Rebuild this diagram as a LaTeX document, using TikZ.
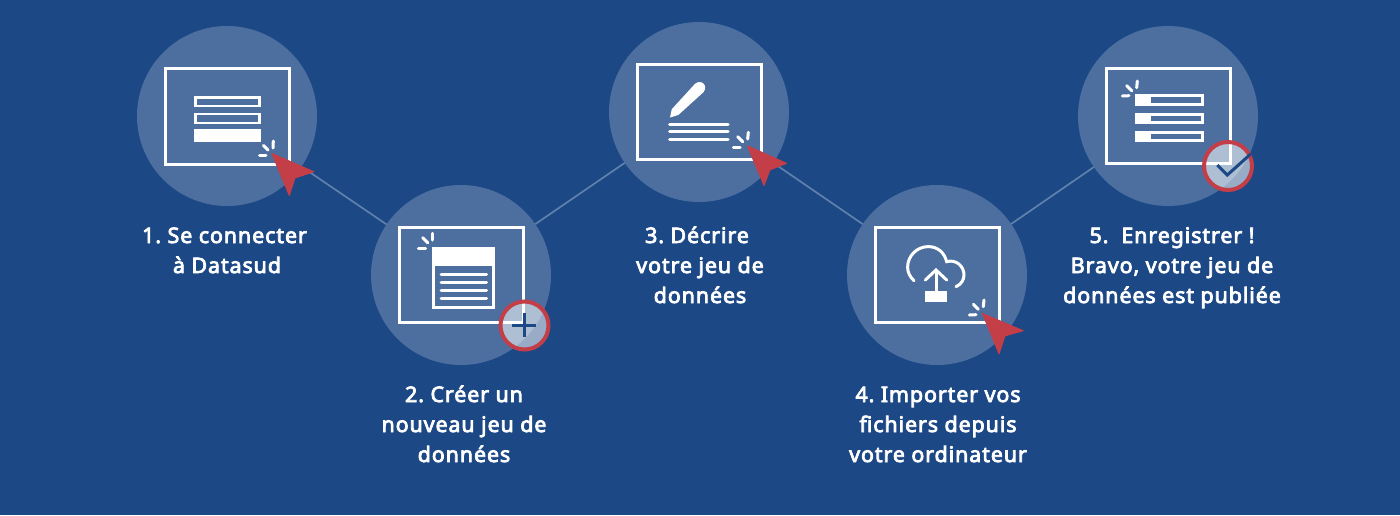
\documentclass[tikz,border=0pt]{standalone}
\usepackage{fontspec}
\newfontfamily\capfont{Noto Sans}[FakeBold=3.6,LetterSpace=4.3]
\definecolor{bgblue}{HTML}{1C4885}
\definecolor{disc}{HTML}{4C6F9F}
\definecolor{link}{HTML}{5F82AD}
\definecolor{redc}{HTML}{C43E48}
\tikzset{
  stepdisc/.style={circle,draw=none,fill=disc,minimum size=180pt,inner sep=0pt,outer sep=0pt},
  linkline/.style={draw=link,line width=1.7pt},
  screen/.style={draw=white,line width=3pt,line join=miter},
  spark/.style={draw=white,line width=3pt,line cap=round},
  rowline/.style={draw=white,line width=3pt,line cap=round},
  barbox/.style={draw=white,line width=2.8pt},
  cursor/.style={fill=redc,draw=redc,line width=.8pt,line join=round},
  badge/.style={circle,draw=redc,line width=4pt,fill=white,fill opacity=.55,minimum size=48pt,inner sep=0pt,outer sep=0pt},
  badgemark/.style={draw=bgblue,line width=3pt},
  caption/.style={text=white,align=center,font=\fontsize{21.4}{30}\capfont\frenchspacing,inner sep=0pt,anchor=base},
}
\begin{document}
\begin{tikzpicture}[x=1pt,y=-1pt]
\useasboundingbox (0,0) rectangle (1400,515);
\fill[bgblue] (0,0) rectangle (1400,515);
% discs
\node[stepdisc] (s1) at (227,116) {};
\node[stepdisc] (s2) at (461,275) {};
\node[stepdisc] (s3) at (699,112) {};
\node[stepdisc] (s4) at (937,275) {};
\node[stepdisc] (s5) at (1168,116) {};
\draw[linkline] (s1) -- (s2);
\draw[linkline] (s2) -- (s3);
\draw[linkline] (s3) -- (s4);
\draw[linkline] (s4) -- (s5);
% step 1
\draw[screen] (165,68) rectangle (289,164);
\draw[barbox] (195.3,97.3) rectangle (259.5,106);
\draw[barbox] (195.3,114) rectangle (259.5,123);
\fill[white] (194,129.3) rectangle (260.7,141.7);
\draw[spark] (273.3,141) -- (273,148);
\draw[spark] (263.5,145.5) -- (268,150);
\draw[spark] (259.5,155.7) -- (266,155.7);
\draw[cursor] (271.7,153.3) -- (314,171.7) -- (295,178) -- (289.3,195.7) -- cycle;
% step 2
\draw[screen] (399,227) rectangle (523,322.5);
\draw[draw=white,line width=3pt] (433.5,248.5) rectangle (493.5,307.5);
\fill[white] (432,247) rectangle (495,266);
\foreach \y in {274,282,290,298} \draw[rowline] (441,\y) -- (486.5,\y);
\draw[spark] (432.7,233.3) -- (432.7,240);
\draw[spark] (422.7,237.7) -- (427.7,242.7);
\draw[spark] (418.3,248) -- (425.7,248);
\node[badge] (b2) at (524.5,325.5) {};
\draw[badgemark] (524,312.7) -- (524,337);
\draw[badgemark] (511.7,325) -- (536,325);
% step 3
\draw[screen] (637,64) rectangle (761,159.5);
\fill[white] (699.5,87.7) circle (5.7pt);
\fill[white,line join=round] (670,117.5) -- (671.7,109.3) -- (695.3,83.5) -- (704,91.7) -- (678.3,115) -- cycle;
\foreach \y in {124,131.3,139} \draw[rowline] (669.5,\y) -- (728,\y);
\draw[spark] (748.3,132.3) -- (747.7,139);
\draw[spark] (737.7,136.7) -- (742.7,141.7);
\draw[spark] (733.3,147) -- (740,147);
\draw[cursor] (747.3,145.7) -- (786.7,163.3) -- (770,170) -- (764,185.7) -- cycle;
% step 4
\draw[screen] (875,227) rectangle (999,322.5);
\draw[white,line width=3pt,line cap=round] (914,280.7) .. controls (910,277) and (907.6,272.5) .. (907.6,267.3)
  .. controls (907.6,255.9) and (916.9,246.6) .. (928.3,246.6)
  .. controls (938,246.6) and (944.5,253) .. (946.7,261.7)
  .. controls (956,259) and (964,266) .. (964,275)
  .. controls (964,280) and (961,284.5) .. (956,286.7);
\draw[white,line width=3pt] (936,271) -- (936,292);
\draw[white,line width=3pt,line cap=round,line join=miter] (925.3,280) -- (936,270) -- (946.7,280);
\fill[white] (925.3,291) rectangle (946.7,301.7);
\draw[spark] (984,300) -- (983.3,306.7);
\draw[spark] (973.3,304.3) -- (978.3,309.3);
\draw[spark] (969.3,315) -- (976,314.7);
\draw[cursor] (982.3,313.3) -- (1023.3,330.7) -- (1005,336) -- (999,354) -- cycle;
% step 5
\draw[screen] (1106,68) rectangle (1230,163.5);
\draw[spark] (1137.3,81) -- (1136.7,87.7);
\draw[spark] (1126.7,85.7) -- (1131.7,90.7);
\draw[spark] (1122.3,96) -- (1129,95.7);
\foreach \y in {94.3,112.7,130.7} {
  \draw[barbox] (1136.7,\y+1.45) rectangle (1202.7,\y+9.9);
  \fill[white] (1135.3,\y) rectangle (1150.7,\y+11.3);
}
\node[badge] (b5) at (1228,166) {};
\draw[badgemark,line join=miter] (1217.3,165) -- (1227.3,175) -- (1250.7,154);
% captions
\node[caption] (t1a) at (224.5,243) {1. Se connecter};
\node[caption] (t1b) at (227,273) {à Datasud};
\node[caption] (t2a) at (464,402) {2. Créer un};
\node[caption] (t2b) at (464,432) {nouveau jeu de};
\node[caption] (t2c) at (464,462) {données};
\node[caption] (t3a) at (697,243) {3. Décrire};
\node[caption] (t3b) at (700,273) {votre jeu de};
\node[caption] (t3c) at (700,303) {données};
\node[caption] (t4a) at (938,402) {4. Importer vos};
\node[caption] (t4b) at (938,432) {fichiers depuis};
\node[caption] (t4c) at (938,462) {votre ordinateur};
\node[caption] (t5a) at (1172,243) {5.\ \ Enregistrer !};
\node[caption] (t5b) at (1172,273) {Bravo, votre jeu de};
\node[caption] (t5c) at (1172,303) {données est publiée};
\end{tikzpicture}
\end{document}
